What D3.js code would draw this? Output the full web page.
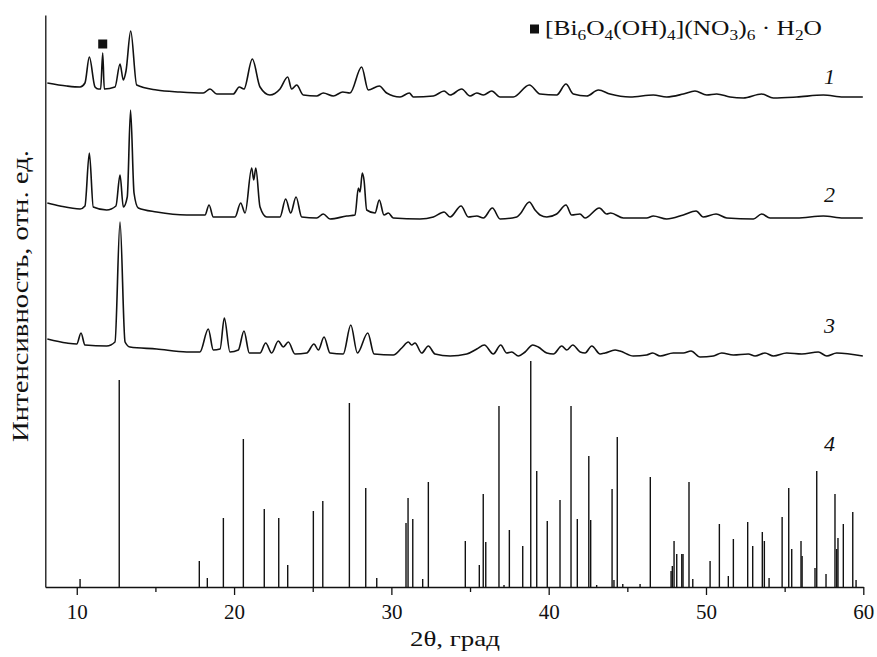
<!DOCTYPE html>
<html>
<head>
<meta charset="utf-8">
<script src="https://cdn.jsdelivr.net/npm/d3@7"></script>
<style>
  body { margin: 0; background: #fff; }
  svg text { font-family: "Liberation Serif", "DejaVu Serif", serif; fill: #111; }
</style>
</head>
<body>
<div id="chart"></div>
<script>
// XRD patterns 1–3 (stacked, a.u.) and reference stick pattern 4

// [2θ, intensity], curves already stacked
const pattern1 = [
  [8.13,504],[9.36,501],[10.21,500],[10.52,504],[10.80,530],[11.16,500],[11.37,498],[11.52,498],
  [11.65,534],[11.75,498],[12.43,500],[12.75,523],[12.96,507],[13.13,516],[13.43,556],[13.81,502],
  [15.08,497],[16.56,495],[18.04,494],[18.47,498],[18.90,493],[19.95,493],[20.33,500],[20.63,498],
  [21.16,528],[21.65,500],[22.28,492],[22.92,498],[23.41,510],[23.66,498],[23.98,502],[24.40,492],
  [25.25,491],[25.67,494],[26.31,491],[26.91,495],[27.37,494],[28.11,520],[28.53,497],[29.23,501],
  [29.70,494],[30.55,490],[31.14,494],[31.40,490],[32.67,491],[33.35,496],[33.73,492],[34.47,498],
  [35.00,491],[35.43,494],[35.85,492],[36.38,496],[36.91,490],[37.75,490],[38.77,502],[39.45,493],
  [40.51,492],[41.10,503],[41.57,493],[42.42,491],[43.16,497],[43.90,493],[45.17,490],[46.65,492],
  [47.50,490],[48.56,493],[49.30,496],[50.05,492],[50.68,493],[51.53,490],[52.37,489],[53.54,493],
  [54.28,489],[55.77,490],[57.46,492],[58.73,490],[59.97,490]
];

const pattern2 = [
  [8.13,384],[8.93,381],[10.21,378],[10.52,381],[10.80,434],[11.05,380],[11.90,377],[12.49,381],
  [12.75,412],[12.96,380],[13.21,390],[13.42,477],[13.64,394],[13.91,379],[15.08,375],[16.99,372],
  [18.15,372],[18.41,382],[18.68,370],[20.06,370],[20.42,384],[20.70,374],[21.12,419],[21.25,407],
  [21.38,419],[21.65,380],[22.08,370],[22.92,370],[23.28,388],[23.60,374],[23.94,390],[24.30,370],
  [25.25,369],[25.67,373],[26.10,368],[27.16,371],[27.69,372],[27.90,399],[28.01,395],[28.15,414],
  [28.26,407],[28.43,377],[28.96,374],[29.23,387],[29.53,372],[29.81,374],[30.12,369],[31.82,368],
  [32.67,370],[33.35,375],[33.73,370],[34.43,381],[34.89,370],[35.43,371],[35.85,369],[36.42,379],
  [36.91,368],[37.97,370],[38.18,373],[38.77,385],[39.13,377],[39.45,372],[39.88,370],[40.51,373],
  [41.10,382],[41.46,372],[41.99,373],[42.31,369],[43.22,379],[43.69,373],[43.94,374],[44.75,369],
  [46.23,369],[46.65,371],[47.50,368],[48.56,372],[49.37,376],[49.83,370],[50.64,373],[51.32,369],
  [53.01,368],[53.54,373],[54.07,369],[55.77,369],[57.46,371],[58.73,369],[59.97,369]
];

const pattern3 = [
  [8.13,248],[9.36,244],[10.00,243],[10.27,254],[10.52,242],[11.90,241],[12.43,245],[12.75,365],
  [13.07,245],[13.38,240],[15.08,238],[16.99,235],[17.83,235],[18.36,258],[18.68,237],[19.11,238],
  [19.38,269],[19.74,235],[20.27,237],[20.63,256],[20.97,234],[21.65,234],[22.01,244],[22.39,234],
  [22.81,246],[23.13,240],[23.45,245],[23.87,233],[24.62,234],[25.08,243],[25.36,237],[25.72,250],
  [26.10,234],[26.94,233],[27.42,262],[27.84,234],[28.50,254],[28.90,233],[30.12,232],[30.66,239],
  [31.08,245],[31.29,242],[31.50,244],[31.93,234],[32.35,241],[32.77,233],[33.73,231],[34.79,233],
  [35.43,238],[35.91,242],[36.48,233],[36.95,242],[37.33,234],[37.65,235],[38.07,231],[38.50,235],
  [38.99,242],[39.34,240],[39.88,234],[40.30,233],[40.83,241],[41.15,237],[41.53,242],[42.00,235],
  [42.31,234],[42.74,241],[43.27,233],[43.58,234],[44.22,237],[44.53,236],[45.38,231],[46.23,232],
  [46.61,234],[47.08,231],[47.92,234],[48.56,234],[49.05,236],[49.62,230],[50.47,231],[51.00,234],
  [51.74,232],[52.69,233],[53.12,231],[53.75,234],[54.28,231],[55.13,234],[56.09,233],[57.14,235],
  [57.68,231],[58.31,234],[59.97,231]
];

// reference pattern 4: line positions and relative heights
const stickAngles = [
  10.21,12.70,17.79,18.30,19.32,20.59,21.92,22.84,23.41,25.04,25.64,27.33,28.37,29.07,30.93,31.06,
  31.36,31.99,32.35,34.70,35.59,35.84,36.00,36.84,37.16,37.50,38.35,38.86,39.24,39.91,40.72,41.42,
  41.82,42.55,42.67,43.05,44.03,44.15,44.36,44.71,45.81,46.46,47.78,47.86,47.97,48.14,48.46,48.54,
  48.92,49.16,50.26,50.85,51.42,51.74,52.65,52.97,53.58,53.71,54.01,54.84,55.26,55.45,56.04,56.11,
  56.93,57.04,57.63,58.20,58.31,58.39,58.73,59.33,59.54
];
const stickHeights = [
  8,207,26,9,69,148,78,69,22,76,86,184,99,9,64,89,
  68,8,105,46,22,93,45,181,2,57,41,226,116,66,87,181,
  68,131,67,2,98,7,150,3,3,110,16,21,46,33,33,33,
  105,8,26,63,11,48,65,41,55,46,9,70,99,38,46,31,
  19,116,13,93,38,49,63,75,7
];

const xMajorTicks = [10, 20, 30, 40, 50, 60];
const xMinorTicks = [15, 25, 35, 45, 55];
const curveLabels = ["1", "2", "3", "4"];
const curveLabelLevels = [511, 393, 262, 144];
const markerAngle = 11.65;
const markerLevel = 543;

// =============================================================================
// CHART
// =============================================================================

const W = 877, H = 657;
const svg = d3.select("#chart").append("svg")
  .attr("width", W)
  .attr("height", H);

const x = d3.scaleLinear().domain([8, 60]).range([45.3, 863.3]);
const y = d3.scaleLinear().domain([0, 572]).range([587, 15]);

// --- axes ---
svg.append("g")
  .attr("transform", `translate(0,${y(0)})`)
  .call(d3.axisBottom(x).tickValues(xMajorTicks).tickSize(8).tickSizeOuter(0).tickPadding(9))
  .call(g => g.selectAll("text").style("font-size", "21px").attr("font-family", null))
  .call(g => g.selectAll("path,line").attr("stroke", "#111").attr("stroke-width", 1.3));

svg.append("g")
  .attr("transform", `translate(0,${y(0)})`)
  .call(d3.axisBottom(x).tickValues(xMinorTicks).tickSize(5).tickSizeOuter(0).tickFormat(""))
  .call(g => g.select(".domain").remove())
  .call(g => g.selectAll("line").attr("stroke", "#111").attr("stroke-width", 1.3));

svg.append("g")
  .attr("transform", `translate(${x(8)},0)`)
  .call(d3.axisLeft(y).tickValues([]).tickSizeOuter(0))
  .call(g => g.select(".domain").attr("stroke", "#111").attr("stroke-width", 1.3));

// --- axis labels ---
svg.append("text")
  .attr("x", 455)
  .attr("y", 646)
  .attr("text-anchor", "middle")
  .attr("textLength", 90)
  .attr("lengthAdjust", "spacingAndGlyphs")
  .style("font-size", "22px")
  .text("2θ, град");

svg.append("text")
  .attr("transform", "rotate(-90)")
  .attr("x", -296)
  .attr("y", 28)
  .attr("text-anchor", "middle")
  .attr("textLength", 292)
  .attr("lengthAdjust", "spacingAndGlyphs")
  .style("font-size", "23px")
  .text("Интенсивность, отн. ед.");

// --- patterns ---
const line = d3.line()
  .curve(d3.curveMonotoneX)
  .x(d => x(d[0]))
  .y(d => y(d[1]));

[pattern1, pattern2, pattern3].forEach(p => {
  svg.append("path")
    .datum(p)
    .attr("fill", "none")
    .attr("stroke", "#111")
    .attr("stroke-width", 1.6)
    .attr("stroke-linejoin", "round")
    .attr("d", line);
});

// --- stick pattern ---
svg.selectAll(".stick")
  .data(stickAngles.map((a, i) => ({ a, h: stickHeights[i] })))
  .enter()
  .append("line")
  .attr("class", "stick")
  .attr("x1", d => x(d.a))
  .attr("x2", d => x(d.a))
  .attr("y1", y(0))
  .attr("y2", d => y(d.h))
  .attr("stroke", "#111")
  .attr("stroke-width", 1.4);

// --- curve numbers ---
svg.selectAll(".curve-label")
  .data(curveLabels)
  .enter()
  .append("text")
  .attr("class", "curve-label")
  .attr("x", x(57.85))
  .attr("y", (d, i) => y(curveLabelLevels[i]))
  .attr("text-anchor", "middle")
  .attr("dy", "0.35em")
  .style("font-size", "22px")
  .style("font-style", "italic")
  .text(d => d);

// --- phase marker and legend ---
svg.append("rect")
  .attr("x", x(markerAngle) - 4.5)
  .attr("y", y(markerLevel) - 4.5)
  .attr("width", 9)
  .attr("height", 9)
  .attr("fill", "#111");

svg.append("rect")
  .attr("x", 530)
  .attr("y", 24.5)
  .attr("width", 9)
  .attr("height", 9)
  .attr("fill", "#111");

const legend = svg.append("text")
  .attr("x", 545)
  .attr("y", 35)
  .attr("textLength", 277)
  .attr("lengthAdjust", "spacingAndGlyphs")
  .style("font-size", "22px");

const parts = [
  ["[Bi", 0], ["6", 1], ["O", 0], ["4", 1], ["(OH)", 0], ["4", 1], ["](NO", 0], ["3", 1],
  [")", 0], ["6", 1], [" · H", 0], ["2", 1], ["O", 0]
];
let prevSub = 0;
parts.forEach(([t, sub]) => {
  legend.append("tspan")
    .attr("dy", sub === prevSub ? 0 : (sub ? 5 : -5))
    .style("font-size", sub ? "15px" : "22px")
    .text(t);
  prevSub = sub;
});
</script>
</body>
</html>
